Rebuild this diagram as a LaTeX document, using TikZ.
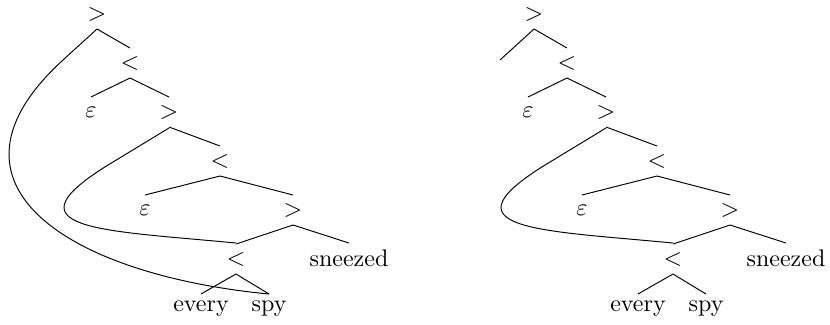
\documentclass[tikz,border=0pt]{standalone}
\usepackage{amsmath,amssymb}
\usetikzlibrary{calc}
% one unit is one pixel of the reference
\tikzset{
  word/.style={inner sep=1pt},
  op/.style={inner sep=1pt},
}
\newcommand{\treebranch}[2]{\draw ($(#1)+(0,15)$) -- ($(#2)+(0,-15)$);}

\begin{document}
\begin{tikzpicture}[x=0.4167pt,y=-0.4167pt]
  \useasboundingbox (0,0) rectangle (830,324);
  \foreach \tr/\dx in {L/0,R/437}{
    \node[op] (\tr n1) at (97+\dx,14) {$>$};
    \node[op] (\tr n2) at (130+\dx,63) {$<$};
    \node[op] (\tr e1) at (91+\dx,112) {$\varepsilon$};
    \node[op] (\tr n3) at (169+\dx,112) {$>$};
    \node[op] (\tr n4) at (220+\dx,161) {$<$};
    \node[op] (\tr e2) at (145+\dx,210) {$\varepsilon$};
    \node[op] (\tr n5) at (293+\dx,210) {$>$};
    \node[op] (\tr n6) at (236+\dx,259) {$<$};
    \node[word] (\tr sneezed) at (349+\dx,258) {sneezed};
    \node[word] (\tr every) at (201+\dx,309) {every};
    \node[word] (\tr spy) at (269+\dx,309) {spy};
    \coordinate (\tr t1) at (63+\dx,60);
    \coordinate (\tr t2) at (113+\dx,162);
    \draw ($(\tr n1)+(0,15)$) -- (\tr t1);
    \treebranch{\tr n1}{\tr n2}
    \treebranch{\tr n2}{\tr e1}
    \treebranch{\tr n2}{\tr n3}
    \draw ($(\tr n3)+(0,16)$) -- (\tr t2);
    \treebranch{\tr n3}{\tr n4}
    \treebranch{\tr n4}{\tr e2}
    \treebranch{\tr n4}{\tr n5}
    \treebranch{\tr n5}{\tr n6}
    \treebranch{\tr n5}{\tr sneezed}
    \treebranch{\tr n6}{\tr every}
    \treebranch{\tr n6}{\tr spy}
    % moved constituent
    \draw (\tr t2) .. controls (0+\dx,230) and (100+\dx,230) .. ($(\tr n6)+(0,-16)$);
  }
  \draw (Lt1) .. controls (-74,185) and (70,275) .. ($(Lspy)+(0,-15)$);
\end{tikzpicture}
\end{document}
